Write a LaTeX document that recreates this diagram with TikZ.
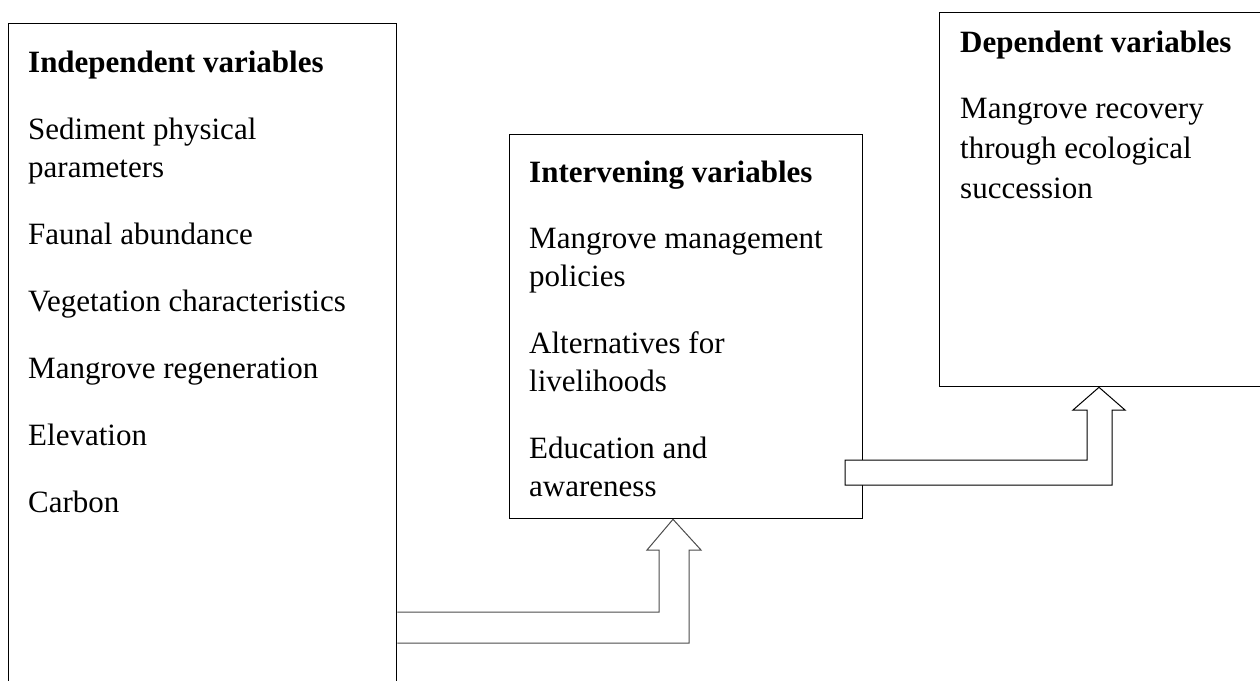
\documentclass[tikz,border=0pt]{standalone}
\usepackage{fontspec}
\setmainfont{Liberation Serif}
\begin{document}
\begin{tikzpicture}[x=1pt,y=-1pt,
  box/.style={draw=black,line width=1.3pt,rectangle,inner sep=0pt,anchor=north west,fill=white},
  txt/.style={anchor=base west,inner sep=0pt,font=\fontsize{31}{38}\selectfont},
  ttl/.style={txt,font=\fontsize{31}{38}\selectfont\bfseries},
  blockarrow/.style={line width=1pt,fill=white,line join=miter}]
\useasboundingbox (0,0) rectangle (1260,680);
\clip (0,0) rectangle (1260,680);
% boxes
\node[box,minimum width=388pt,minimum height=690pt] (indep) at (8,23) {};
\node[box,minimum width=353pt,minimum height=384pt] (interv) at (509,134) {};
\node[box,minimum width=340pt,minimum height=374pt] (dep) at (939,12) {};
% independent
\node[ttl] (t1) at (28,72) {Independent variables};
\node[txt] (i1) at (28,139) {Sediment physical};
\node[txt] (i2) at (28,177) {parameters};
\node[txt] (i3) at (28,244) {Faunal abundance};
\node[txt] (i4) at (28,311) {Vegetation characteristics};
\node[txt] (i5) at (28,378) {Mangrove regeneration};
\node[txt] (i6) at (28,445) {Elevation};
\node[txt] (i7) at (28,512) {Carbon};
% intervening
\node[ttl] (t2) at (529,182) {Intervening variables};
\node[txt] (m1) at (529,248) {Mangrove management};
\node[txt] (m2) at (529,286) {policies};
\node[txt] (m3) at (529,353) {Alternatives for};
\node[txt] (m4) at (529,391) {livelihoods};
\node[txt] (m5) at (529,458) {Education and};
\node[txt] (m6) at (529,496) {awareness};
% dependent
\node[ttl] (t3) at (960,52) {Dependent variables};
\node[txt] (d1) at (960,118) {Mangrove recovery};
\node[txt] (d2) at (960,158) {through ecological};
\node[txt] (d3) at (960,198) {succession};
% arrow 1: independent -> intervening
\coordinate (a1s) at (indep.east |- 0,612);
\coordinate (a1e) at (indep.east |- 0,643);
\coordinate (a1tip) at (interv.south -| 673,0);
\draw[blockarrow,draw=black!70] (a1s) -- (659,612) -- (659,550) -- (647,550) -- (a1tip)
  -- (701,550) -- (689,550) -- (689,643) -- (a1e);
% arrow 2: intervening -> dependent
\coordinate (a2tip) at (dep.south -| 1099,0);
\draw[blockarrow,draw=black] (845,460) -- (1087,460) -- (1087,410) -- (1073,410) -- (a2tip)
  -- (1125,410) -- (1112,410) -- (1112,485) -- (845,485) -- cycle;
\end{tikzpicture}
\end{document}
